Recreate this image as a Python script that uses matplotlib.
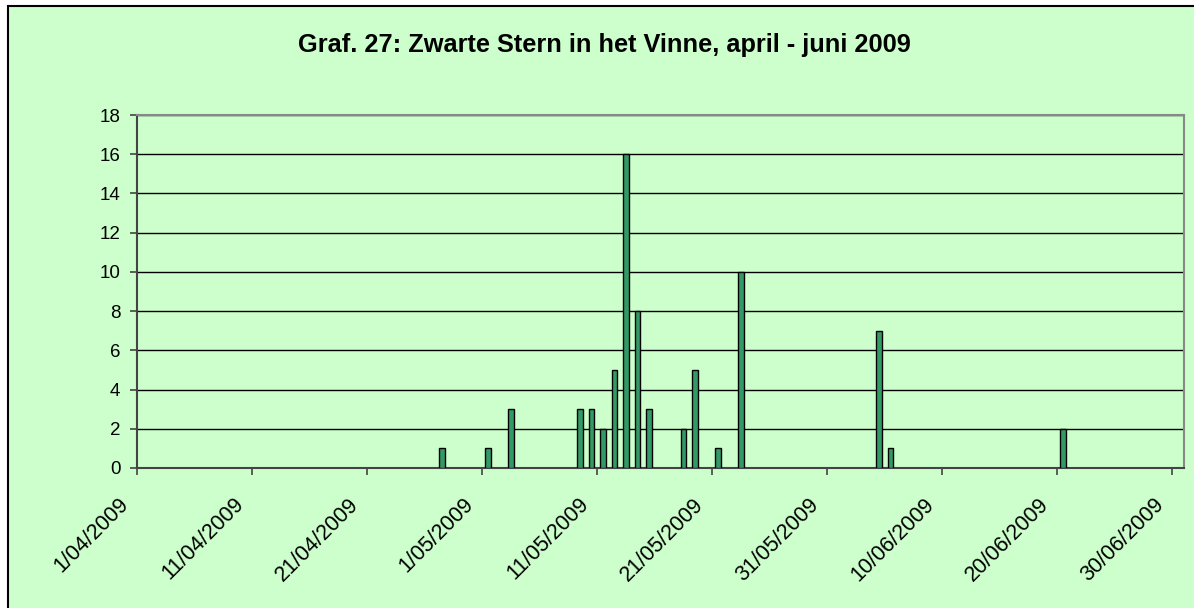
import datetime as dt

import matplotlib
matplotlib.use("Agg")
import matplotlib.pyplot as plt
import matplotlib.dates as mdates
import matplotlib.transforms as mtransforms
from matplotlib.patches import Rectangle

# observation dates and counts (Zwarte Stern, het Vinne)
dates = [
    "2009-04-27", "2009-05-01", "2009-05-03", "2009-05-09", "2009-05-10",
    "2009-05-11", "2009-05-12", "2009-05-13", "2009-05-14", "2009-05-15",
    "2009-05-18", "2009-05-19", "2009-05-21", "2009-05-23", "2009-06-04",
    "2009-06-05", "2009-06-20",
]
counts = [1, 1, 3, 3, 3, 2, 5, 16, 8, 3, 2, 5, 1, 10, 7, 1, 2]

tick_dates = ["2009-04-01", "2009-04-11", "2009-04-21", "2009-05-01",
              "2009-05-11", "2009-05-21", "2009-05-31", "2009-06-10",
              "2009-06-20", "2009-06-30"]
y_ticks = [0, 2, 4, 6, 8, 10, 12, 14, 16, 18]

title = "Graf. 27: Zwarte Stern in het Vinne, april - juni 2009"

plt.rcParams['font.family'] = ['Liberation Sans', 'DejaVu Sans']

bg = '#CCFFCC'
fig = plt.figure(figsize=(11.94, 6.08), dpi=100)
fig.patch.set_facecolor('white')

# chart area frame (cropped at right/bottom)
fig.patches.append(Rectangle((8 / 1194, -0.05), 1.2, 1 - 6 / 608 + 0.05,
                             transform=fig.transFigure, facecolor=bg,
                             edgecolor='black', linewidth=1.5, zorder=-10))

ax = fig.add_axes([137 / 1194, 140 / 608, 1047 / 1194, 353 / 608])
ax.set_facecolor(bg)

to_num = lambda s: mdates.date2num(dt.datetime.strptime(s, "%Y-%m-%d"))
x = [to_num(d) + 0.5 for d in dates]
ax.bar(x, counts, width=0.5, color='#339966', edgecolor='black',
       linewidth=1.0, zorder=3)

ax.set_xlim(to_num("2009-04-01"), to_num("2009-07-01"))
ax.set_ylim(0, 18)
ax.set_yticks(y_ticks)
ax.set_xticks([to_num(d) for d in tick_dates])
ax.set_xticklabels([dt.datetime.strptime(d, "%Y-%m-%d").strftime("%-d/%m/%Y")
                    for d in tick_dates],
                   rotation=45, ha='right', va='top', rotation_mode='anchor')

ax.grid(axis='y', color='black', linewidth=1.0, zorder=1)
ax.set_axisbelow(True)
for side in ['top', 'right']:
    ax.spines[side].set_color('#888888')
    ax.spines[side].set_linewidth(1.5)
for side in ['left', 'bottom']:
    ax.spines[side].set_color('#444444')
    ax.spines[side].set_linewidth(1.5)

ax.tick_params(axis='y', direction='out', length=5, width=1.2,
               color='#444444', labelsize=13.5, pad=7)
ax.tick_params(axis='x', direction='out', length=5, width=1.2,
               color='#444444', labelsize=15.5, pad=0)

# shift the rotated date labels down-left like the original
shift = mtransforms.ScaledTranslation(-0.19, -0.19, fig.dpi_scale_trans)
for lab in ax.get_xticklabels():
    lab.set_transform(lab.get_transform() + shift)

fig.text(604 / 1194, 1 - 45 / 608, title, ha='center', va='center',
         fontsize=18.3, fontweight='bold')

fig.savefig('out.png', dpi=100, facecolor=fig.get_facecolor())
